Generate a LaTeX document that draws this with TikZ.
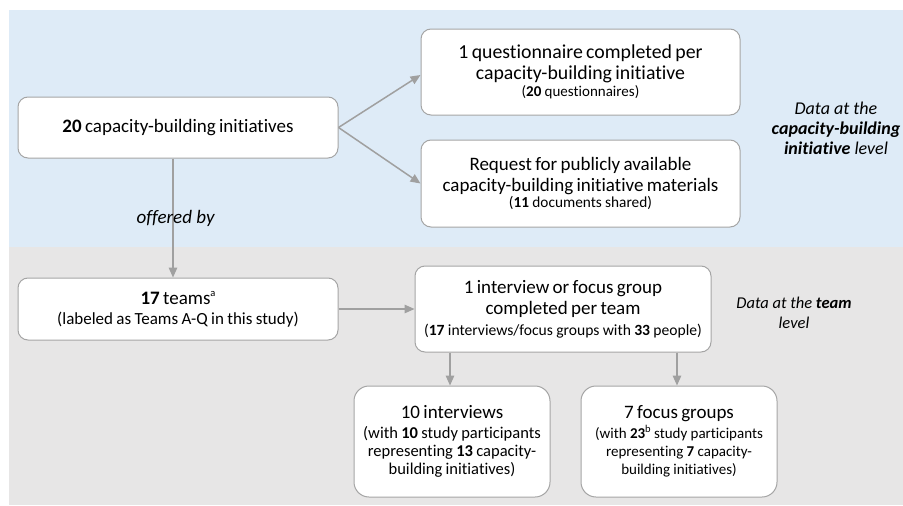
\documentclass[tikz,border=0pt]{standalone}
\usepackage{fontspec}
\setmainfont{Carlito}[Ligatures={NoCommon}]
\usetikzlibrary{arrows.meta}
\definecolor{bgblue}{HTML}{DEEBF7}
\definecolor{bggray}{HTML}{E7E6E6}
\definecolor{boxline}{HTML}{A5A5A5}
\definecolor{arrline}{HTML}{A0A0A0}
\newcommand\mfnt[1][19]{\fontsize{#1}{21}\selectfont}
\newcommand\smfnt[1]{\fontsize{#1}{18}\selectfont}
\newcommand\supmark[1]{\raisebox{0.42em}{\fontsize{10.5}{10.5}\selectfont #1}}
\begin{document}
\begin{tikzpicture}[x=1pt,y=-1pt,
  box/.style={draw=boxline, line width=1pt, fill=white, rounded corners=10pt,
    align=center, inner xsep=3pt, inner ysep=0pt},
  arr/.style={draw=arrline, line width=1.5pt, -{Triangle[length=10pt,width=8.5pt]}},
  sidelbl/.style={align=center, font=\itshape}]
\useasboundingbox (0,0) rectangle (903,506);
\fill[bgblue] (9,10) rectangle (903,247);
\fill[bggray] (9,247) rectangle (903,505);

\node[box, text width=314pt, minimum height=61pt] (A) at (178,127.5)
  {\mfnt\textbf{20} capacity-building initiatives\par};
\node[box, text width=313pt, minimum height=86pt] (B) at (580.5,72)
  {\mfnt[19.8]1 questionnaire completed per\\capacity-building initiative\par
   \vspace{-1.5pt}\smfnt{15}(\textbf{20} questionnaires)\par};
\node[box, text width=313pt, minimum height=87pt] (C) at (580.5,183.5)
  {\mfnt Request for publicly available\\capacity-building initiative materials\par
   \vspace{-1.5pt}\smfnt{15.3}(\textbf{11} documents shared)\par};
\node[box, text width=314pt, minimum height=62pt] (D) at (178,309)
  {\mfnt\textbf{17} teams\supmark{a}\par
   \vspace{2pt}\smfnt{17}(labeled as Teams A-Q in this study)\par};
\node[box, text width=290pt, minimum height=86pt] (E) at (563,309)
  {\mfnt 1 interview or focus group\\completed per team\par
   \vspace{3pt}\smfnt{15.6}(\textbf{17} interviews/focus groups with \textbf{33} people)\par};
\node[box, rounded corners=15pt, text width=190pt, minimum height=111pt] (F) at (452,441.5)
  {\mfnt 10 interviews\par
   \vspace{2pt}\smfnt{16.5}(with \textbf{10} study participants\\representing \textbf{13} capacity-\\building initiatives)\par};
\node[box, rounded corners=15pt, text width=190pt, minimum height=111pt] (G) at (679,441.5)
  {\mfnt 7 focus groups\par
   \vspace{2pt}\smfnt{15}(with \textbf{23}\supmark{b} study participants\\representing \textbf{7} capacity-\\building initiatives)\par};

\node[sidelbl, font=\fontsize{18}{20}\selectfont\itshape] (L1) at (836,128)
  {Data at the\\\textbf{capacity-building}\\\textbf{initiative} level};
\node[sidelbl, font=\fontsize{16.5}{20}\selectfont\itshape] (L2) at (794,313)
  {Data at the \textbf{team}\\level};

\draw[arr] (A.east) -- ([yshift=-3pt]B.west);
\draw[arr] (A.east) -- (C.west);
\draw[arr] ([xshift=-5pt]A.south) -- node[xshift=2.5pt, font=\mfnt\itshape] (ob) {offered by} ([xshift=-5pt]D.north);
\draw[arr] (D.east) -- (E.west);
\draw[arr] ([xshift=-2pt]F.north |- E.south) -- ([xshift=-2pt]F.north);
\draw[arr] ([xshift=-2pt]G.north |- E.south) -- ([xshift=-2pt]G.north);
\end{tikzpicture}
\end{document}
